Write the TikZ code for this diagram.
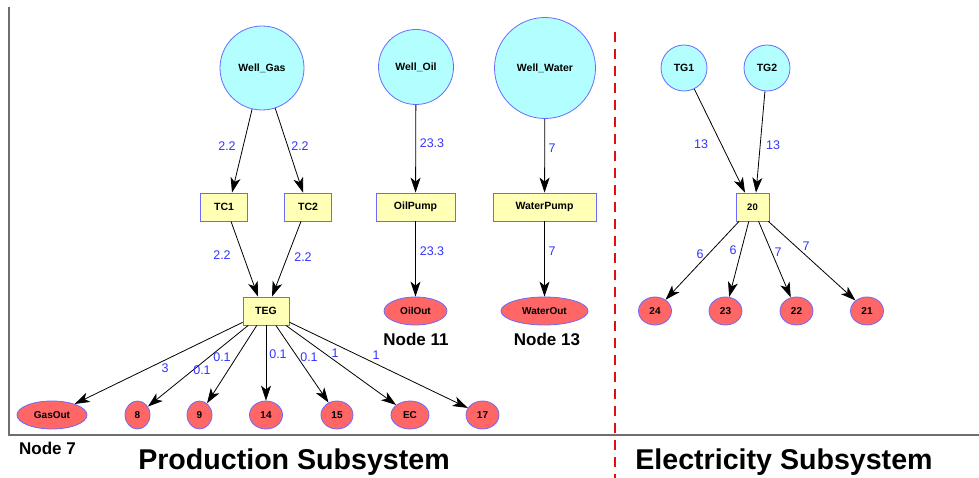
\documentclass[tikz,border=0pt]{standalone}
\usepackage{fontspec}
\setmainfont{Liberation Sans}
\usetikzlibrary{arrows.meta,shapes.geometric,calc}
\definecolor{wellfill}{HTML}{B3FFFF}
\definecolor{nodeblue}{HTML}{6A6AFF}
\definecolor{boxfill}{HTML}{FFFFB5}
\definecolor{outfill}{HTML}{FF6666}
\definecolor{lblblue}{HTML}{3333FF}
\definecolor{framegray}{HTML}{6E6E6E}
\definecolor{sepred}{HTML}{E01010}
\tikzset{
  well/.style={circle, draw=nodeblue, fill=wellfill, line width=0.8pt, inner sep=0pt, font=\fontsize{10.5}{12}\selectfont\bfseries},
  unit/.style={rectangle, draw=nodeblue, fill=boxfill, line width=0.8pt, inner sep=0pt, minimum height=28pt, font=\fontsize{10.5}{12}\selectfont\bfseries},
  sink/.style={ellipse, draw=nodeblue, fill=outfill, line width=0.8pt, inner sep=0pt, minimum height=28pt, font=\fontsize{10}{12}\selectfont\bfseries},
  flow/.style={draw=black, line width=0.8pt, -{Stealth[length=15pt,width=10pt,inset=4pt]}},
  val/.style={text=lblblue, font=\fontsize{12.5}{14}\selectfont, inner sep=0pt},
  caption/.style={font=\fontsize{17}{19}\selectfont\bfseries, inner sep=0pt},
  title/.style={font=\fontsize{28.6}{32}\selectfont\bfseries, inner sep=0pt, anchor=base}
}
\begin{document}
\begin{tikzpicture}[x=1pt,y=-1pt]
\useasboundingbox (0,0) rectangle (979,478);
% frame
\coordinate (ftop) at (9,7);
\coordinate (fcorner) at (9,435);
\coordinate (fright) at (979,435);
\draw[framegray, line width=1.5pt] (ftop) -- (fcorner) -- (fright);
\coordinate (stop) at (615,32);
\coordinate (sbot) at (615,478);
\draw[sepred, line width=2pt, dash pattern=on 10pt off 7pt] (stop) -- (sbot);

% wells
\node[well, minimum size=84pt] (wg) at (262,68) {Well\_Gas};
\node[well, minimum size=75pt] (wo) at (416,67) {Well\_Oil};
\node[well, minimum size=101pt] (ww) at (545,68) {Well\_Water};
\node[well, minimum size=46pt] (tg1) at (684,68) {TG1};
\node[well, minimum size=46pt] (tg2) at (767,68) {TG2};

% units
\node[unit, minimum width=47pt] (tc1) at (224,207) {TC1};
\node[unit, minimum width=47pt] (tc2) at (308,207) {TC2};
\node[unit, minimum width=79pt] (op) at (415.5,207) {OilPump};
\node[unit, minimum width=103pt] (wp) at (544.5,207) {WaterPump};
\node[unit, minimum width=33pt, font=\fontsize{9.5}{11}\selectfont\bfseries] (n20) at (752.5,207) {20};
\node[unit, minimum width=46pt] (teg) at (266,311) {TEG};

% sinks
\node[sink, minimum width=63pt] (oo) at (415.5,311) {OilOut};
\node[sink, minimum width=87pt] (wout) at (544.5,311) {WaterOut};
\node[sink, minimum width=70pt] (go) at (52,415) {GasOut};
\node[sink, minimum width=25pt] (n8) at (137.5,415) {8};
\node[sink, minimum width=25pt] (n9) at (199.5,415) {9};
\node[sink, minimum width=33pt] (n14) at (266,415) {14};
\node[sink, minimum width=32pt] (n15) at (337,415) {15};
\node[sink, minimum width=38pt] (ec) at (410,415) {EC};
\node[sink, minimum width=33pt] (n17) at (482.5,415) {17};
\node[sink, minimum width=33pt] (n24) at (655,311) {24};
\node[sink, minimum width=33pt] (n23) at (725.5,311) {23};
\node[sink, minimum width=33pt] (n22) at (796.5,311) {22};
\node[sink, minimum width=33pt] (n21) at (867,311) {21};

% edges
\draw[flow] (wg) -- ([xshift=8pt]tc1.north);
\draw[flow] (wg) -- ([xshift=-5pt]tc2.north);
\draw[flow] ([xshift=7pt]tc1.south) -- ([xshift=-8pt]teg.north);
\draw[flow] ([xshift=-7pt]tc2.south) -- ([xshift=6pt]teg.north);
\draw[flow] (wo) -- (op);
\draw[flow] (op) -- (oo);
\draw[flow] (ww) -- (wp);
\draw[flow] (wp) -- (wout);
\draw[flow] (tg1) -- ([xshift=-7.5pt]n20.north);
\draw[flow] (tg2) -- ([xshift=3.5pt]n20.north);
\foreach \t in {n24,n23,n22,n21} \draw[flow] (n20) -- (\t);
\foreach \t in {go,n8,n9,n14,n15,ec,n17} \draw[flow] (teg) -- (\t);

% edge values
\node[val] (v1) at (227,146) {2.2};
\node[val] (v2) at (300,146) {2.2};
\node[val] (v3) at (222,255) {2.2};
\node[val] (v4) at (303,257) {2.2};
\node[val] (v5) at (432,143) {23.3};
\node[val] (v6) at (432,251) {23.3};
\node[val] (v7) at (552,148) {7};
\node[val] (v8) at (552,251) {7};
\node[val] (v9) at (701,144) {13};
\node[val] (v10) at (773,145) {13};
\node[val] (v11) at (165,368) {3};
\node[val] (v12) at (202,370) {0.1};
\node[val] (v13) at (222,357) {0.1};
\node[val] (v14) at (278,354) {0.1};
\node[val] (v15) at (309,357) {0.1};
\node[val] (v16) at (335,353) {1};
\node[val] (v17) at (376,355) {1};
\node[val] (v18) at (700,254) {6};
\node[val] (v19) at (733,250) {6};
\node[val] (v20) at (778,252) {7};
\node[val] (v21) at (806,246) {7};

% captions
\node[caption] (c7) at (47.5,448) {Node 7};
\node[caption] (c11) at (416,339) {Node 11};
\node[caption] (c13) at (547,339) {Node 13};
\node[title] (tp) at (294,469) {Production Subsystem};
\node[title] (te) at (784,469) {Electricity Subsystem};
\end{tikzpicture}
\end{document}
